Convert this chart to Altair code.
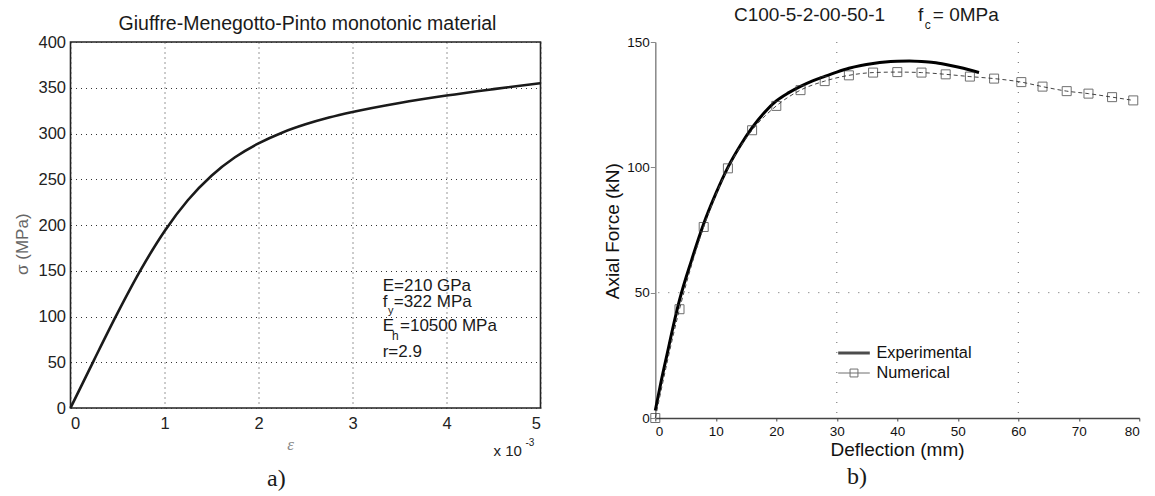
import altair as alt
import pandas as pd

# ---------------- Panel a: Giuffre-Menegotto-Pinto curve ----------------
strain_e3 = [0, 0.25, 0.5, 0.75, 1.0, 1.25, 1.5, 1.75, 2.0, 2.25, 2.5, 2.75, 3.0, 3.5, 4.0, 4.5, 5.0]
stress_mpa = [0, 52.4, 103.7, 151.5, 193.2, 227.3, 253.9, 274.0, 289.2, 300.9, 310.0, 317.4, 323.5, 333.4, 341.5, 348.5, 355.0]
a_xticks = [0, 1, 2, 3, 4, 5]
a_yticks = [0, 50, 100, 150, 200, 250, 300, 350, 400]

# ---------------- Panel b: C100-5-2-00-50-1 ----------------
exp_defl = [0, 1, 2, 3, 4, 6, 8, 10, 12, 14, 16, 18, 20, 22, 24, 26, 28, 30, 32, 34, 36, 38, 40, 42, 44, 46, 48, 50, 52, 53.5]
exp_force = [3, 15, 26, 37, 47, 63, 77.5, 89.5, 100, 108.5, 115.8, 121.8, 126.5, 129.7, 132.3, 134.5, 136.3, 138.0, 139.5, 140.6, 141.4, 142.0, 142.3, 142.4, 142.2, 141.8, 141.0, 140.0, 138.8, 137.8]
num_defl = [0, 4, 8, 12, 16, 20, 24, 28, 32, 36, 40, 44, 48, 52, 56, 60.5, 64, 68, 71.6, 75.5, 79]
num_force = [0, 43.4, 76.2, 99.6, 114.8, 124.5, 130.8, 134.4, 136.7, 137.8, 138.0, 137.8, 137.1, 136.2, 135.4, 134.0, 132.2, 130.4, 129.4, 128.0, 126.7]
series_names = ["Experimental", "Numerical"]
b_xticks = [0, 10, 20, 30, 40, 50, 60, 70, 80]
b_yticks = [0, 50, 100, 150]
b_grid_x = [30, 60]
b_grid_y = [50]

SANS = "Liberation Sans"
SERIF = "Liberation Serif"
W1, H1 = 470, 366
W2, H2 = 484, 376


def txt(s, x, y, size, color="#1a1a1a", align="left", font=SANS, style="normal"):
    return alt.Chart(alt.Data(values=[{}])).mark_text(
        font=font, fontSize=size, align=align, baseline="middle", color=color, fontStyle=style
    ).encode(x=alt.value(x), y=alt.value(y), text=alt.value(s))


# ---------- left chart ----------
dfa = pd.DataFrame({"strain": strain_e3, "stress": stress_mpa})
curve_a = alt.Chart(dfa).mark_line(color="#1a1a1a", strokeWidth=2.6, interpolate="monotone").encode(
    x=alt.X("strain:Q", scale=alt.Scale(domain=[0, 5], nice=False),
            axis=alt.Axis(values=a_xticks, title="ε", grid=True, gridDash=[1, 4], gridColor="#333",
                          gridWidth=1, ticks=False, tickSize=0, domain=False, labelFont=SANS,
                          labelFontSize=16.5, labelPadding=7, labelColor="#222",
                          titleFont=SERIF, titleFontStyle="italic", titleFontWeight="normal",
                          titleColor="#888", titleFontSize=17, titleX=219.5, titleY=36,
                          titleBaseline="middle", titleAlign="center")),
    y=alt.Y("stress:Q", scale=alt.Scale(domain=[0, 400], nice=False),
            axis=alt.Axis(values=a_yticks, title="σ (MPa)", grid=True, gridDash=[1, 4], gridColor="#333",
                          gridWidth=1, ticks=False, tickSize=0, domain=False, labelFont=SANS,
                          labelFontSize=16.5, labelPadding=5, labelColor="#222",
                          titleFont=SANS, titleFontWeight="normal", titleColor="#666", titleFontSize=17,
                          titleX=-48.5, titleY=201.7, titleAngle=270, titleBaseline="middle",
                          titleAlign="center")),
)

left = alt.layer(
    curve_a,
    txt("Giuffre-Menegotto-Pinto monotonic material", 237, -18.3, 19.5, align="center"),
    txt("E=210 GPa", 312.2, 243.7, 17),
    txt("f", 312.2, 260.4, 17),
    txt("=322 MPa", 323.2, 260.4, 17),
    txt("y", 317.5, 268.8, 11),
    txt("E", 312.2, 283.7, 17),
    txt("=10500 MPa", 329.5, 283.7, 17),
    txt("h", 321.5, 293.7, 12),
    txt("r=2.9", 312.2, 310.4, 17),
    txt("x 10", 423, 409.4, 15, color="#222"),
    txt("-3", 455, 400.7, 10, color="#222"),
    txt("a)", 196.5, 436.7, 24, font=SERIF),
).properties(width=W1, height=H1, view=alt.ViewBackground(stroke="#222", strokeWidth=1.6))

# ---------- right chart ----------
df_exp = pd.DataFrame({"defl": exp_defl, "force": exp_force})
df_num = pd.DataFrame({"defl": num_defl, "force": num_force})
df_gx = pd.DataFrame({"defl": b_grid_x})
df_gy = pd.DataFrame({"force": b_grid_y})

xb = alt.X("defl:Q", scale=alt.Scale(domain=[0, 80], nice=False),
           axis=alt.Axis(values=b_xticks, title="Deflection (mm)", grid=False, domainColor="#444",
                         domainWidth=1.5, tickColor="#444", tickSize=3, labelFont=SANS,
                         labelFontSize=13.5, labelPadding=3, labelColor="#111", titleFont=SANS,
                         titleFontSize=19, titleFontWeight="normal", titleColor="#111",
                         titleX=241.7, titleY=31, titleBaseline="middle", titleAlign="center"))
yb = alt.Y("force:Q", scale=alt.Scale(domain=[0, 150], nice=False),
           axis=alt.Axis(values=b_yticks, title="Axial Force (kN)", grid=False, domainColor="#888",
                         domainWidth=1.5, tickColor="#888", tickSize=5, labelFont=SANS,
                         labelFontSize=13.5, labelPadding=1, labelColor="#111", titleFont=SANS,
                         titleFontSize=19, titleFontWeight="normal", titleColor="#111",
                         titleX=-43.3, titleY=188.7, titleAngle=270, titleBaseline="middle",
                         titleAlign="center"))

grid_v = alt.Chart(df_gx).mark_rule(color="#666", strokeWidth=1, strokeDash=[1, 9]).encode(x=alt.X("defl:Q"))
grid_h = alt.Chart(df_gy).mark_rule(color="#666", strokeWidth=1, strokeDash=[1, 9]).encode(y=alt.Y("force:Q"))

exp_line = alt.Chart(df_exp).mark_line(color="#000", strokeWidth=3, interpolate="monotone").encode(x=xb, y=yb)
num_line = alt.Chart(df_num).mark_line(color="#444", strokeWidth=1, strokeDash=[4, 3], interpolate="monotone").encode(
    x="defl:Q", y="force:Q")
num_pts = alt.Chart(df_num).mark_point(shape="square", size=81, filled=False, color="#333", strokeWidth=1).encode(
    x="defl:Q", y="force:Q")

path_exp = "M-1,0L1,0"
path_num = "M-1,0L1,0M-0.25,-0.25L0.25,-0.25L0.25,0.25L-0.25,0.25Z"
leg = alt.Legend(title=None, orient="none", legendX=181.2, legendY=301, padding=0, symbolSize=1000,
                 clipHeight=20, rowPadding=0, labelOffset=5, labelFont=SANS, labelFontSize=16.3,
                 labelColor="#111", symbolFillColor="transparent")
legend_layer = alt.Chart(pd.DataFrame({"series": series_names})).mark_point(filled=False, clip=True).encode(
    x=alt.value(-300), y=alt.value(-300),
    shape=alt.Shape("series:N", scale=alt.Scale(domain=series_names, range=[path_exp, path_num]), legend=leg),
    color=alt.Color("series:N", scale=alt.Scale(domain=series_names, range=["#000", "#333"]), legend=leg),
    strokeWidth=alt.StrokeWidth("series:N", scale=alt.Scale(domain=series_names, range=[3, 1]), legend=leg),
)

right = alt.layer(
    grid_v, grid_h, exp_line, num_line, num_pts, legend_layer,
    txt("C100-5-2-00-50-1", 78.7, -27.3, 19),
    txt("f", 262.7, -27.3, 19),
    txt("c", 269.5, -17.3, 12),
    txt("= 0MPa", 277.5, -27.3, 19),
    txt("b)", 191.7, 434.7, 24, font=SERIF),
).properties(width=W2, height=H2, view=alt.ViewBackground(strokeWidth=0))

chart = alt.hconcat(left, right, spacing=114.8, bounds="flush").resolve_legend(
    color="independent", shape="independent", strokeWidth="independent"
).properties(
    padding={"left": 11.5, "top": 5, "right": 5, "bottom": 5}
).configure_view(strokeWidth=0).configure(background="white")

chart.save("out.html", embed_options={"renderer": "svg", "actions": False})
